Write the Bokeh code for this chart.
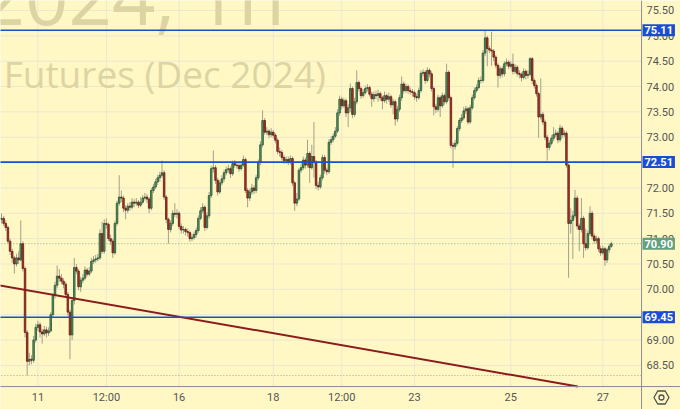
from bokeh.plotting import figure
from bokeh.models import Range1d, Label, Span, ColumnDataSource
from bokeh.core.properties import value
from bokeh.embed import file_html
from bokeh.resources import INLINE

# ---------------- data (hourly candles) ----------------
first_open = 71.38
closes = [
    71.40, 71.30, 71.22, 70.95, 70.75, 70.62, 70.50, 70.62, 70.58, 70.90,
    70.41, 69.15, 68.58, 68.62, 68.60, 69.00, 69.25, 69.30, 69.16, 69.12,
    69.20, 69.14, 69.18, 69.50, 69.88, 70.08, 70.26, 70.22, 70.16, 70.10,
    69.90, 69.55, 69.10, 69.78, 70.43, 70.36, 70.05, 70.18, 70.22, 70.38,
    70.30, 70.36, 70.55, 70.58, 70.60, 70.62, 71.10, 70.75, 71.30, 71.28,
    71.00, 70.95, 70.72, 71.30, 71.70, 71.82, 71.80, 71.60, 71.56, 71.64,
    71.62, 71.72, 71.70, 71.72, 71.66, 71.72, 71.80, 71.82, 71.78, 71.60,
    71.95, 72.02, 72.12, 72.20, 72.25, 72.30, 71.82, 71.38, 71.18, 71.30,
    71.50, 71.48, 71.50, 71.24, 71.17, 71.18, 71.14, 71.12, 71.00, 71.02,
    71.08, 71.16, 71.40, 71.55, 71.62, 71.22, 71.45, 71.85, 72.38, 72.40,
    72.15, 71.92, 72.10, 72.18, 72.30, 72.36, 72.38, 72.28, 72.48, 72.45,
    72.44, 72.38, 72.45, 72.56, 71.95, 71.80, 71.92, 72.00, 71.95, 72.20,
    72.50, 72.85, 73.33, 73.10, 73.12, 73.05, 73.10, 73.04, 72.94, 72.72,
    72.70, 72.60, 72.54, 72.56, 72.52, 72.58, 72.10, 71.70, 71.78, 72.35,
    72.40, 72.55, 72.45, 72.68, 72.40, 72.62, 72.50, 72.05, 72.02, 72.20,
    72.60, 72.35, 72.32, 72.90, 72.95, 73.02, 73.12, 73.48, 73.75, 73.62,
    73.72, 73.48, 73.58, 73.96, 73.45, 73.70, 74.08, 73.96, 73.82, 73.88,
    73.96, 73.98, 73.85, 73.76, 73.84, 73.82, 73.86, 73.78, 73.72, 73.82,
    73.75, 73.80, 73.64, 73.70, 73.36, 73.55, 73.78, 74.05, 73.92, 74.00,
    73.92, 73.90, 73.88, 73.80, 73.78, 73.92, 74.26, 74.28, 74.12, 74.32,
    74.25, 73.96, 73.60, 73.55, 73.78, 73.62, 73.82, 73.70, 74.28, 73.78,
    72.84, 72.82, 72.88, 73.17, 73.33, 73.38, 73.52, 73.56, 73.30, 73.58,
    73.78, 73.92, 73.98, 74.12, 74.12, 74.66, 74.96, 74.75, 74.72, 74.70,
    74.58, 74.42, 74.22, 74.35, 74.25, 74.45, 74.48, 74.40, 74.44, 74.30,
    74.38, 74.26, 74.24, 74.18, 74.30, 74.22, 74.24, 74.55, 74.12, 74.02,
    73.86, 73.40, 73.45, 73.30, 73.00, 72.80, 72.88, 72.98, 73.05, 73.08,
    72.95, 73.18, 73.05, 73.08, 72.45, 71.30, 71.36, 71.45, 71.80, 71.25,
    71.18, 71.40, 70.90, 70.82, 71.10, 71.50, 71.05, 70.96, 71.00, 70.80,
    70.72, 70.80, 70.58, 70.78, 70.85, 70.90,
]
highs = [
    71.50, 71.45, 71.36, 71.26, 71.00, 70.80, 70.66, 70.70, 70.75, 71.36,
    70.95, 70.45, 69.20, 68.75, 68.70, 69.08, 69.32, 69.38, 69.35, 69.22,
    69.28, 69.26, 69.25, 69.55, 69.92, 70.15, 70.47, 70.40, 70.30, 70.22,
    70.15, 69.95, 69.60, 69.85, 70.62, 70.50, 70.40, 70.25, 70.30, 70.45,
    70.42, 70.44, 70.62, 70.66, 70.68, 70.70, 71.18, 71.33, 71.38, 71.40,
    71.32, 71.08, 71.00, 71.35, 71.75, 72.25, 71.95, 71.85, 71.66, 71.70,
    71.72, 71.80, 71.78, 71.80, 71.76, 71.82, 71.86, 71.90, 71.88, 71.82,
    72.00, 72.08, 72.18, 72.26, 72.32, 72.54, 72.35, 71.86, 71.42, 71.36,
    71.56, 71.70, 71.58, 71.54, 71.30, 71.25, 71.22, 71.20, 71.16, 71.10,
    71.14, 71.22, 71.46, 71.62, 71.70, 71.66, 71.52, 71.92, 72.44, 72.74,
    72.45, 72.20, 72.16, 72.25, 72.36, 72.42, 72.46, 72.42, 72.54, 72.55,
    72.52, 72.50, 72.52, 72.64, 72.60, 72.00, 71.98, 72.08, 72.05, 72.26,
    72.56, 72.92, 73.53, 73.38, 73.20, 73.16, 73.18, 73.14, 73.08, 72.98,
    72.80, 72.75, 72.65, 72.62, 72.62, 72.64, 72.62, 72.14, 71.90, 72.40,
    72.48, 72.62, 72.60, 72.95, 72.72, 72.85, 73.30, 72.55, 72.12, 72.26,
    72.66, 72.65, 72.40, 72.96, 73.02, 73.08, 73.20, 73.55, 73.82, 73.80,
    73.78, 73.76, 73.65, 74.06, 74.00, 73.78, 74.32, 74.12, 74.00, 73.95,
    74.02, 74.05, 74.02, 73.90, 73.90, 73.92, 73.94, 73.90, 73.82, 73.90,
    73.86, 73.88, 73.84, 73.76, 73.74, 73.62, 73.84, 74.20, 74.10, 74.06,
    74.04, 73.98, 73.95, 73.92, 73.86, 73.98, 74.32, 74.34, 74.32, 74.38,
    74.36, 74.30, 74.00, 73.66, 73.84, 73.82, 73.88, 73.86, 74.45, 74.32,
    73.82, 72.90, 72.95, 73.22, 73.38, 73.46, 73.60, 73.62, 73.60, 73.64,
    73.84, 73.98, 74.04, 74.18, 74.20, 74.72, 75.10, 75.00, 74.80, 75.08,
    74.74, 74.62, 74.46, 74.40, 74.40, 74.50, 74.55, 74.52, 74.50, 74.65,
    74.44, 74.42, 74.32, 74.28, 74.36, 74.34, 74.32, 74.58, 74.58, 74.16,
    74.06, 73.90, 74.16, 73.50, 73.35, 73.05, 72.94, 73.04, 73.20, 73.15,
    73.12, 73.25, 73.22, 73.14, 73.12, 72.48, 71.60, 71.55, 71.96, 71.85,
    71.30, 71.80, 71.45, 71.20, 71.16, 71.64, 71.55, 71.10, 71.06, 71.04,
    70.86, 70.86, 70.84, 70.82, 70.90, 70.94,
]
lows = [
    71.30, 71.25, 71.15, 70.90, 70.68, 70.52, 70.31, 70.45, 70.50, 70.55,
    70.35, 69.05, 68.30, 68.50, 68.52, 68.55, 68.95, 69.18, 69.05, 68.93,
    69.08, 69.05, 69.08, 69.15, 69.45, 69.82, 70.02, 70.15, 70.10, 70.02,
    69.85, 69.48, 68.62, 69.00, 69.70, 70.30, 69.98, 69.95, 70.12, 70.18,
    70.25, 70.26, 70.32, 70.50, 70.52, 70.55, 70.58, 70.70, 70.70, 71.20,
    70.95, 70.88, 70.62, 70.68, 71.25, 71.65, 71.72, 71.52, 71.38, 71.50,
    71.55, 71.58, 71.62, 71.65, 71.60, 71.62, 71.68, 71.75, 71.70, 71.50,
    71.56, 71.90, 71.98, 72.06, 72.12, 72.20, 71.76, 71.30, 70.90, 71.12,
    71.25, 71.42, 71.40, 71.18, 71.10, 71.10, 71.06, 71.04, 70.94, 70.95,
    70.98, 71.02, 71.12, 71.36, 71.50, 71.15, 71.18, 71.40, 71.80, 72.30,
    72.08, 71.85, 71.88, 72.05, 72.12, 72.25, 72.30, 72.20, 72.24, 72.40,
    72.38, 72.32, 72.34, 72.42, 71.90, 71.62, 71.74, 71.86, 71.88, 71.90,
    72.15, 72.45, 72.80, 73.05, 73.04, 72.98, 73.00, 72.98, 72.88, 72.66,
    72.62, 72.54, 72.48, 72.48, 72.45, 72.46, 72.04, 71.55, 71.64, 71.74,
    72.30, 72.35, 72.38, 72.40, 72.10, 72.36, 72.20, 71.98, 71.95, 71.98,
    72.15, 72.28, 72.25, 72.28, 72.85, 72.90, 72.98, 73.08, 73.42, 73.55,
    73.58, 73.40, 73.20, 73.50, 73.38, 73.40, 73.65, 73.90, 73.76, 73.78,
    73.84, 73.90, 73.80, 73.60, 73.70, 73.75, 73.70, 73.72, 73.55, 73.68,
    73.66, 73.70, 73.58, 73.45, 73.23, 73.30, 73.50, 73.72, 73.86, 73.88,
    73.86, 73.84, 73.80, 73.74, 73.70, 73.74, 73.88, 74.20, 74.05, 74.08,
    74.18, 73.90, 73.43, 73.48, 73.50, 73.40, 73.58, 73.64, 73.66, 73.72,
    72.78, 72.40, 72.76, 72.84, 73.12, 73.28, 73.34, 73.46, 73.25, 73.26,
    73.54, 73.74, 73.88, 73.94, 74.06, 74.08, 74.60, 74.40, 74.66, 74.41,
    74.50, 74.36, 73.98, 74.16, 74.18, 74.20, 74.40, 74.34, 74.36, 74.24,
    74.25, 74.20, 74.16, 74.10, 74.14, 74.14, 74.16, 74.20, 74.05, 73.96,
    73.80, 72.99, 73.35, 73.24, 72.94, 72.54, 72.74, 72.84, 72.92, 73.00,
    72.88, 72.90, 72.98, 73.00, 72.40, 70.23, 71.10, 70.60, 71.40, 71.18,
    70.75, 71.12, 70.62, 70.76, 70.78, 71.05, 70.98, 70.90, 70.90, 70.74,
    70.66, 70.68, 70.46, 70.52, 70.72, 70.82,
]
levels = [75.11, 72.51, 69.45]
trend_x = [-1, 290]
trend_y = [70.08, 67.93]
x_tick_pos = [17, 49, 83, 127, 159, 193, 238, 281]
x_tick_labels = ["11", "12:00", "16", "18", "12:00", "23", "25", "27"]
y_ticks = [68.5, 69.0, 69.5, 70.0, 70.5, 71.0, 71.5, 72.0, 72.5, 73.0, 73.5, 74.0, 74.5, 75.0, 75.5]
watermark_1 = "2024, 1h"
watermark_2 = "Futures (Dec 2024)"

# ---------------- derived ----------------
opens = [first_open] + closes[:-1]
n = len(closes)
idx = list(range(n))
up = [c >= o for o, c in zip(opens, closes)]

BG = "#fff8c5"
GRID = "#ece7cf"
BLUE = "#1b4dd4"
AXIS = "#8d8d8d"
LABEL = "#555555"
UP_FILL, UP_LINE = "#5a9c72", "#24502f"
DN_FILL, DN_LINE = "#b23528", "#661812"
WICK = "#a3a08c"

# scale: whole canvas is the frame; price pane ends at the axes
X0, AX_X, X1 = -0.47, 299.1, 317.3     # left edge, price-axis position, right edge (bar units)
Y0, Y_AX, Y1 = 67.63, 68.083, 75.697   # bottom edge, time-axis position, top edge (price)
Y_LAB = 67.867                         # time-axis label row
X_GEAR = 308.4                         # settings icon column

src = ColumnDataSource(dict(
    x=idx, open=opens, close=closes, high=highs[:n], low=lows[:n],
    top=[max(o, c) for o, c in zip(opens, closes)],
    bottom=[min(o, c) for o, c in zip(opens, closes)],
    fill=[UP_FILL if u else DN_FILL for u in up],
    line=[UP_LINE if u else DN_LINE for u in up],
))

p = figure(width=680, height=409, output_backend="svg", toolbar_location=None,
           x_range=Range1d(X0, X1), y_range=Range1d(Y0, Y1),
           x_axis_location=None, y_axis_location=None,
           min_border_left=0, min_border_top=0, min_border_right=0, min_border_bottom=0)
p.background_fill_color = BG
p.border_fill_color = BG
p.outline_line_color = None
p.grid.visible = False

# grid (stops at the axes)
p.segment(x0=x_tick_pos, x1=x_tick_pos, y0=[Y_AX] * len(x_tick_pos), y1=[Y1 + 1] * len(x_tick_pos),
          line_color=GRID, line_width=1, level="underlay")
p.segment(x0=[X0 - 1] * len(y_ticks), x1=[AX_X] * len(y_ticks), y0=y_ticks, y1=y_ticks,
          line_color=GRID, line_width=1, level="underlay")

# watermark
p.add_layout(Label(x=-9.3, y=75.80, text=watermark_1, text_align="left",
                   text_baseline="alphabetic", text_font="Open Sans",
                   text_font_size="76px", text_color="#dcd5a3", level="underlay"))
p.add_layout(Label(x=1.0, y=74.26, text=watermark_2, text_align="left",
                   text_baseline="alphabetic", text_font="Open Sans",
                   text_font_size="37px", text_color="#dcd5a3", level="underlay"))

# dotted lines: last price and lowest low
p.segment(x0=[X0 - 1, X0 - 1], x1=[AX_X, AX_X], y0=[closes[-1], min(lows)], y1=[closes[-1], min(lows)],
          line_color=["#84b08f", "#a8a8a0"], line_dash="1 2", line_width=1)

# candles
p.segment(x0="x", y0="low", x1="x", y1="high", source=src, line_color=WICK, line_width=1)
p.vbar(x="x", width=0.72, top="top", bottom="bottom", source=src,
       fill_color="fill", line_color="line", line_width=0.8)

# trend line, cut where it meets the time axis
t_cut = (Y_AX - trend_y[0]) / (trend_y[1] - trend_y[0])
x_cut = trend_x[0] + t_cut * (trend_x[1] - trend_x[0])
p.line([trend_x[0], x_cut], [trend_y[0], Y_AX], line_color="#8a1c1c", line_width=2)

# horizontal levels
p.segment(x0=[X0 - 1] * len(levels), x1=[AX_X] * len(levels), y0=levels, y1=levels,
          line_color=BLUE, line_width=1.6)

# axes drawn by hand
p.segment(x0=[X0 - 1], x1=[X1 + 1], y0=[Y_AX], y1=[Y_AX], line_color=AXIS, line_width=1)
p.add_layout(Span(location=AX_X, dimension="height", line_color=AXIS, line_width=1))
p.text(x=[AX_X + 2.3] * len(y_ticks), y=y_ticks, text=[f"{t:.2f}" for t in y_ticks],
       text_align="left", text_baseline="middle", text_font=value("Roboto"),
       text_font_size="11px", text_color=LABEL)
p.text(x=x_tick_pos, y=[Y_LAB] * len(x_tick_pos), text=x_tick_labels,
       text_align="center", text_baseline="middle", text_font=value("Roboto"),
       text_font_size="11px", text_color=LABEL)

# settings icon in the corner
p.scatter([X_GEAR], [Y_LAB], marker="hex", size=15, fill_color=None,
          line_color="#4f4f4f", line_width=1.3)
p.scatter([X_GEAR], [Y_LAB], marker="circle", size=5, fill_color=None,
          line_color="#4f4f4f", line_width=1.3)

# price tags on the axis
tag_x = AX_X + 0.45
for lv in levels:
    p.add_layout(Label(x=tag_x, y=lv, text=f"{lv:.2f}", text_align="left",
                       text_baseline="middle", text_font="Roboto", text_font_size="11px",
                       text_font_style="bold", text_color="white",
                       background_fill_color=BLUE, padding=2))
p.add_layout(Label(x=tag_x, y=closes[-1], text=f"{closes[-1]:.2f}", text_align="left",
                   text_baseline="middle", text_font="Roboto", text_font_size="11px",
                   text_font_style="bold", text_color="white",
                   background_fill_color="#62a07f", padding=2))

open("out.html", "w").write(file_html(p, INLINE))
